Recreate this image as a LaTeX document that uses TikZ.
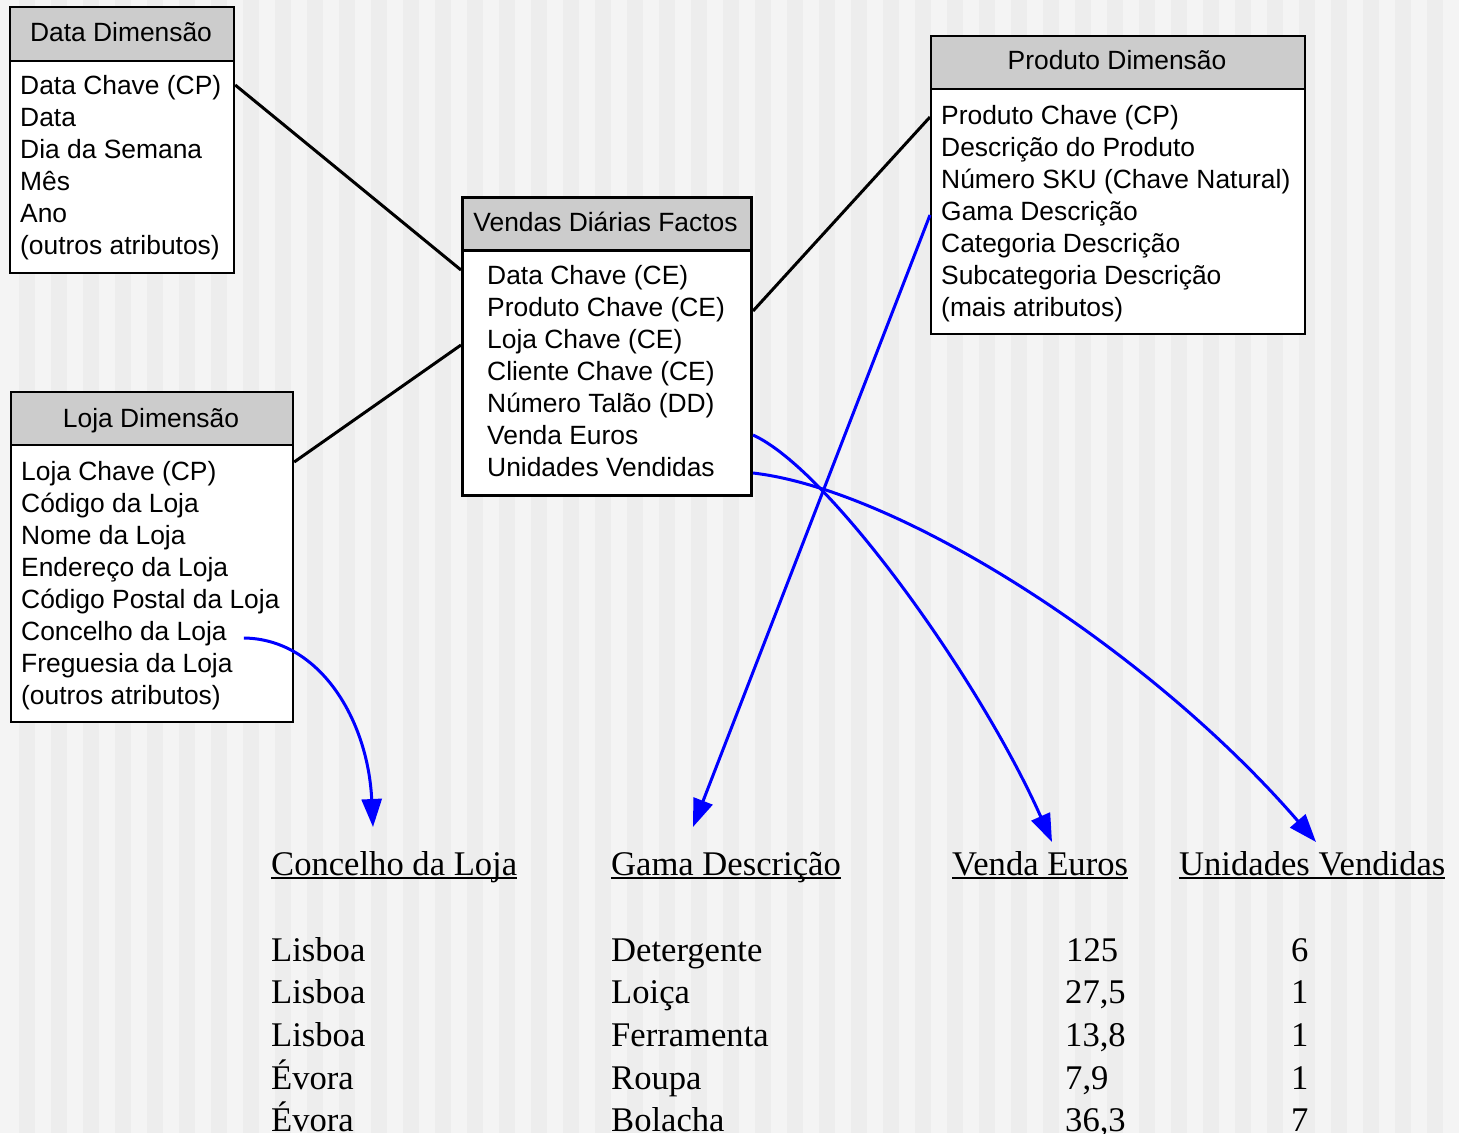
\documentclass[tikz,border=0pt]{standalone}
\usepackage{fontspec}
\setmainfont{Liberation Serif}
\newfontfamily\sansf{Liberation Sans}
\usetikzlibrary{arrows.meta,calc}
\definecolor{bgA}{HTML}{F4F4F4}
\definecolor{bgB}{HTML}{EDEDED}
\definecolor{titlegray}{HTML}{CCCCCC}
\newcommand{\ulx}[1]{\setbox0\hbox{#1}\rlap{\rule[-3.8pt]{\wd0}{1.4pt}}\box0}
\begin{document}
\begin{tikzpicture}[x=1pt,y=-1pt,
  titlebox/.style={draw=black, line width=2.2pt, fill=titlegray, anchor=north west, inner sep=0},
  bodybox/.style={draw=black, line width=2.2pt, fill=white, anchor=north west, inner sep=0},
  ttext/.style={font=\sansf\fontsize{26.4}{32}\selectfont, anchor=base, inner sep=0},
  btext/.style={font=\sansf\fontsize{26.4}{32}\selectfont, anchor=base west, inner sep=0},
  hdr/.style={font=\fontsize{34.6}{40}\selectfont, anchor=base west, inner sep=0},
  cell/.style={font=\fontsize{34.6}{40}\selectfont, anchor=base west, inner sep=0},
  conn/.style={draw=black, line width=3pt},
  flow/.style={draw=blue, line width=3pt, -{Triangle[length=28pt,width=20pt]}}]

% background with vertical stripes
\useasboundingbox (0,0) rectangle (1459,1133);
\fill[bgA] (0,0) rectangle (1459,1133);
\foreach \k in {0,...,45} {
  \fill[bgB] ({19+32*\k},0) rectangle ({35+32*\k},1133);
}

% Data Dimensao
\node[bodybox, minimum width=224, minimum height=212] (dB) at (9,60) {};
\node[titlebox, minimum width=224, minimum height=54] (dT) at (9,6) {};
\node[ttext] (dTt) at (121,41.5) {Data Dimensão};
\foreach \t [count=\i] in {Data Chave (CP), Data, Dia da Semana, Mês, Ano, (outros atributos)}
  \node[btext, name=d\i] at (20,{94.5+32*(\i-1)}) {\t};

% Vendas Diarias Factos
\node[bodybox, line width=3pt, minimum width=289, minimum height=245] (vB) at (461,249) {};
\node[titlebox, line width=3pt, minimum width=289, minimum height=53] (vT) at (461,196) {};
\node[ttext] (vTt) at (605.5,231) {Vendas Diárias Factos};
\foreach \t [count=\i] in {Data Chave (CE), Produto Chave (CE), Loja Chave (CE), Cliente Chave (CE), Número Talão (DD), Venda Euros, Unidades Vendidas}
  \node[btext, name=v\i] at (487,{284.5+32*(\i-1)}) {\t};

% Produto Dimensao
\node[bodybox, minimum width=374, minimum height=245] (pB) at (930,88) {};
\node[titlebox, minimum width=374, minimum height=53] (pT) at (930,35) {};
\node[ttext] (pTt) at (1117,69.5) {Produto Dimensão};
\foreach \t [count=\i] in {Produto Chave (CP), Descrição do Produto, Número SKU (Chave Natural), Gama Descrição, Categoria Descrição, Subcategoria Descrição, (mais atributos)}
  \node[btext, name=p\i] at (941,{124+32*(\i-1)}) {\t};

% Loja Dimensao
\node[bodybox, minimum width=282, minimum height=277] (lB) at (10,444) {};
\node[titlebox, minimum width=282, minimum height=53] (lT) at (10,391) {};
\node[ttext] (lTt) at (151,427) {Loja Dimensão};
\foreach \t [count=\i] in {Loja Chave (CP), Código da Loja, Nome da Loja, Endereço da Loja, Código Postal da Loja, Concelho da Loja, Freguesia da Loja, (outros atributos)}
  \node[btext, name=l\i] at (21,{480+32*(\i-1)}) {\t};

% table headers
\node[hdr] (hc) at (271,875) {\ulx{Concelho da Loja}};
\node[hdr] (hg) at (611,875) {\ulx{Gama Descrição}};
\node[hdr] (hv) at (952,875) {\ulx{Venda Euros}};
\node[hdr] (hu) at (1179,875) {\ulx{Unidades Vendidas}};

% table rows
\node[cell] (c11) at (271,961) {Lisboa};
\node[cell] (c21) at (271,1003.7) {Lisboa};
\node[cell] (c31) at (271,1046.4) {Lisboa};
\node[cell] (c41) at (271,1089.1) {Évora};
\node[cell] (c51) at (271,1131.8) {Évora};
\node[cell] (c12) at (611,961) {Detergente};
\node[cell] (c22) at (611,1003.7) {Loiça};
\node[cell] (c32) at (611,1046.4) {Ferramenta};
\node[cell] (c42) at (611,1089.1) {Roupa};
\node[cell] (c52) at (611,1131.8) {Bolacha};
\node[cell] (c13) at (1066,961) {125};
\node[cell] (c23) at (1065,1003.7) {27,5};
\node[cell] (c33) at (1065,1046.4) {13,8};
\node[cell] (c43) at (1065,1089.1) {7,9};
\node[cell] (c53) at (1065,1131.8) {36,3};
\node[cell] (c14) at (1291,961) {6};
\node[cell] (c24) at (1291,1003.7) {1};
\node[cell] (c34) at (1291,1046.4) {1};
\node[cell] (c44) at (1291,1089.1) {1};
\node[cell] (c54) at (1291,1131.8) {7};

% black connectors
\draw[conn] ($(dB.north east)+(0,25)$) -- ($(vB.north west)+(0,21)$);
\draw[conn] ($(lB.north east)+(0,18)$) -- ($(vB.north west)+(0,96)$);
\draw[conn] ($(vB.north east)+(0,62)$) -- ($(pB.north west)+(0,29)$);

% blue flows
\coordinate (sc) at ($(l6.base east)+(17,-2)$);
\coordinate (tc) at (373,827);
\coordinate (tg) at (693,827);
\coordinate (tv) at (1052,842);
\coordinate (tu) at (1316,842);
\draw[flow] (sc) .. controls (320,639) and (368,720) .. (tc);
\draw[flow] ($(pB.north west)+(0,127)$) -- (tg);
\draw[flow] ($(vB.north east)+(0,186)$) .. controls (830,470) and (980,680) .. (tv);
\draw[flow] ($(vB.north east)+(0,224)$) .. controls (900,490) and (1150,650) .. (tu);
\end{tikzpicture}
\end{document}
